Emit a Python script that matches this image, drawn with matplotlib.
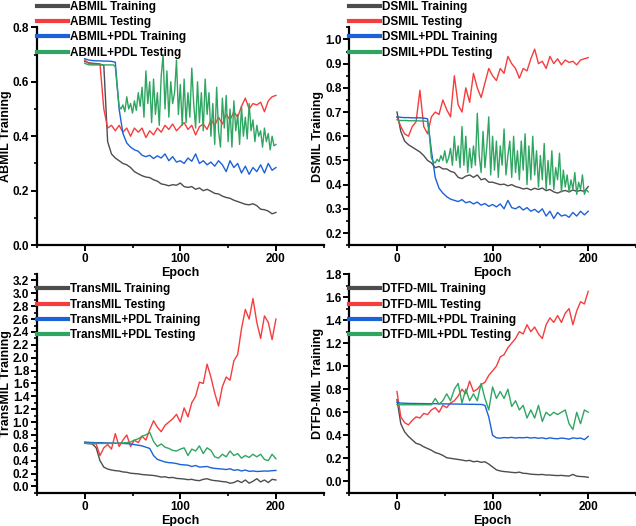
import matplotlib
matplotlib.use("Agg")
import matplotlib.pyplot as plt
from matplotlib.ticker import MultipleLocator

plt.rcParams['font.family'] = ['Liberation Sans', 'DejaVu Sans']
plt.rcParams['font.weight'] = 'bold'
plt.rcParams['axes.labelweight'] = 'bold'

# most series sampled every 4 epochs, the very noisy ones every 2
EPOCHS = list(range(0, 201, 4))
EPOCHS_FINE = list(range(0, 201, 2))

ABMIL_TRAIN = [0.675, 0.670, 0.668, 0.667, 0.665, 0.660, 0.380, 0.335, 0.320, 0.310,
               0.300, 0.295, 0.285, 0.270, 0.262, 0.255, 0.250, 0.248, 0.240, 0.235,
               0.225, 0.222, 0.218, 0.222, 0.220, 0.228, 0.215, 0.212, 0.215, 0.205,
               0.210, 0.200, 0.205, 0.198, 0.190, 0.188, 0.180, 0.175, 0.172, 0.165,
               0.160, 0.155, 0.150, 0.148, 0.152, 0.145, 0.132, 0.130, 0.125, 0.115,
               0.120]
ABMIL_TEST = [0.680, 0.668, 0.665, 0.665, 0.665, 0.500, 0.430, 0.440, 0.420, 0.440,
              0.415, 0.430, 0.400, 0.430, 0.415, 0.430, 0.395, 0.420, 0.405, 0.430,
              0.415, 0.440, 0.425, 0.445, 0.420, 0.435, 0.450, 0.425, 0.440, 0.405,
              0.435, 0.445, 0.425, 0.460, 0.440, 0.470, 0.445, 0.480, 0.460, 0.490,
              0.470, 0.510, 0.540, 0.500, 0.520, 0.515, 0.525, 0.490, 0.530, 0.545,
              0.550]
ABMIL_PDL_TRAIN = [0.685, 0.680, 0.678, 0.677, 0.677, 0.676, 0.676, 0.675, 0.672, 0.500,
                   0.410, 0.375, 0.360, 0.350, 0.345, 0.330, 0.325, 0.330, 0.318, 0.328,
                   0.320, 0.335, 0.310, 0.325, 0.305, 0.310, 0.300, 0.320, 0.308, 0.335,
                   0.300, 0.310, 0.295, 0.305, 0.290, 0.310, 0.295, 0.270, 0.310, 0.285,
                   0.300, 0.265, 0.290, 0.260, 0.285, 0.270, 0.295, 0.265, 0.300, 0.275,
                   0.285]
# every 2 epochs
ABMIL_PDL_TEST = [0.668, 0.665, 0.663, 0.662, 0.662, 0.662, 0.662, 0.662, 0.662, 0.662,
                  0.662, 0.662, 0.662, 0.662, 0.662, 0.662, 0.655, 0.580, 0.510, 0.500,
                  0.515, 0.490, 0.545, 0.500, 0.520, 0.485, 0.530, 0.495, 0.560, 0.510,
                  0.580, 0.470, 0.640, 0.520, 0.600, 0.450, 0.610, 0.480, 0.560, 0.440,
                  0.620, 0.700, 0.500, 0.640, 0.470, 0.600, 0.520, 0.560, 0.680, 0.480,
                  0.590, 0.440, 0.610, 0.450, 0.560, 0.470, 0.650, 0.520, 0.430, 0.600,
                  0.450, 0.560, 0.420, 0.610, 0.480, 0.560, 0.400, 0.520, 0.370, 0.580,
                  0.420, 0.360, 0.540, 0.430, 0.550, 0.380, 0.500, 0.360, 0.530, 0.420,
                  0.480, 0.370, 0.510, 0.400, 0.470, 0.390, 0.520, 0.420, 0.460, 0.380,
                  0.440, 0.400, 0.420, 0.360, 0.430, 0.380, 0.410, 0.350, 0.400, 0.365,
                  0.370]

DSMIL_TRAIN = [0.700, 0.620, 0.580, 0.565, 0.555, 0.545, 0.535, 0.520, 0.500, 0.490,
               0.470, 0.475, 0.465, 0.465, 0.455, 0.450, 0.430, 0.425, 0.435, 0.440,
               0.430, 0.440, 0.420, 0.425, 0.410, 0.410, 0.405, 0.400, 0.402, 0.395,
               0.400, 0.392, 0.388, 0.382, 0.385, 0.378, 0.385, 0.380, 0.386, 0.375,
               0.380, 0.370, 0.365, 0.372, 0.376, 0.370, 0.378, 0.372, 0.376, 0.372,
               0.392]
DSMIL_TEST = [0.680, 0.640, 0.610, 0.600, 0.640, 0.660, 0.790, 0.640, 0.610, 0.680,
              0.700, 0.690, 0.750, 0.710, 0.680, 0.850, 0.730, 0.700, 0.800, 0.740,
              0.860, 0.800, 0.760, 0.820, 0.880, 0.850, 0.830, 0.880, 0.860, 0.930,
              0.900, 0.880, 0.840, 0.880, 0.870, 0.920, 0.960, 0.900, 0.910, 0.880,
              0.930, 0.900, 0.920, 0.895, 0.915, 0.905, 0.910, 0.895, 0.915, 0.920,
              0.925]
DSMIL_PDL_TRAIN = [0.680, 0.678, 0.677, 0.677, 0.676, 0.676, 0.676, 0.675, 0.672, 0.540,
                   0.430, 0.385, 0.365, 0.350, 0.340, 0.335, 0.330, 0.338, 0.325, 0.330,
                   0.320, 0.328, 0.315, 0.322, 0.310, 0.318, 0.308, 0.320, 0.300, 0.335,
                   0.305, 0.300, 0.310, 0.295, 0.305, 0.290, 0.298, 0.285, 0.300, 0.270,
                   0.290, 0.260, 0.285, 0.270, 0.275, 0.265, 0.285, 0.270, 0.290, 0.275,
                   0.290]
# every 2 epochs
DSMIL_PDL_TEST = [0.668, 0.666, 0.665, 0.665, 0.665, 0.665, 0.664, 0.664, 0.664, 0.664,
                  0.664, 0.664, 0.663, 0.663, 0.663, 0.662, 0.660, 0.600, 0.510, 0.495,
                  0.490, 0.505, 0.495, 0.520, 0.500, 0.540, 0.490, 0.510, 0.550, 0.480,
                  0.600, 0.500, 0.560, 0.470, 0.640, 0.480, 0.600, 0.450, 0.550, 0.470,
                  0.560, 0.480, 0.695, 0.520, 0.450, 0.620, 0.470, 0.560, 0.680, 0.440,
                  0.600, 0.460, 0.580, 0.430, 0.560, 0.480, 0.630, 0.440, 0.520, 0.580,
                  0.430, 0.600, 0.450, 0.540, 0.420, 0.580, 0.460, 0.610, 0.400, 0.560,
                  0.420, 0.600, 0.440, 0.540, 0.390, 0.520, 0.420, 0.570, 0.380, 0.500,
                  0.400, 0.540, 0.380, 0.470, 0.420, 0.530, 0.370, 0.460, 0.390, 0.440,
                  0.370, 0.420, 0.380, 0.450, 0.360, 0.410, 0.380, 0.440, 0.360, 0.380,
                  0.370]

TRANSMIL_TRAIN = [0.670, 0.665, 0.660, 0.600, 0.400, 0.300, 0.270, 0.255, 0.245, 0.240,
                  0.225, 0.220, 0.205, 0.200, 0.195, 0.185, 0.180, 0.175, 0.170, 0.160,
                  0.145, 0.150, 0.135, 0.140, 0.125, 0.120, 0.115, 0.105, 0.110, 0.095,
                  0.090, 0.110, 0.120, 0.100, 0.090, 0.085, 0.075, 0.070, 0.050, 0.060,
                  0.090, 0.060, 0.100, 0.050, 0.080, 0.120, 0.070, 0.100, 0.060, 0.110,
                  0.100]
TRANSMIL_TEST = [0.680, 0.670, 0.670, 0.660, 0.480, 0.600, 0.650, 0.580, 0.820, 0.620,
                 0.720, 0.800, 0.620, 0.720, 0.680, 0.780, 0.720, 0.880, 1.020, 0.920,
                 0.850, 0.950, 1.000, 1.050, 1.120, 1.000, 1.220, 1.080, 1.300, 1.400,
                 1.620, 1.600, 1.900, 1.700, 1.450, 1.250, 1.550, 1.700, 1.650, 1.950,
                 2.050, 2.450, 2.750, 2.600, 2.920, 2.550, 2.300, 2.650, 2.550, 2.280,
                 2.600]
TRANSMIL_PDL_TRAIN = [0.690, 0.685, 0.682, 0.680, 0.680, 0.678, 0.676, 0.675, 0.672, 0.670,
                      0.668, 0.665, 0.660, 0.650, 0.640, 0.630, 0.610, 0.590, 0.480, 0.420,
                      0.400, 0.380, 0.370, 0.365, 0.355, 0.340, 0.335, 0.330, 0.310, 0.325,
                      0.300, 0.305, 0.310, 0.290, 0.280, 0.275, 0.270, 0.262, 0.275, 0.250,
                      0.260, 0.240, 0.255, 0.235, 0.240, 0.232, 0.235, 0.240, 0.238, 0.245,
                      0.248]
TRANSMIL_PDL_TEST = [0.670, 0.668, 0.668, 0.668, 0.668, 0.668, 0.668, 0.668, 0.670, 0.672,
                     0.675, 0.680, 0.690, 0.720, 0.740, 0.780, 0.800, 0.840, 0.700, 0.620,
                     0.660, 0.610, 0.590, 0.560, 0.550, 0.580, 0.600, 0.480, 0.580, 0.550,
                     0.630, 0.510, 0.600, 0.560, 0.460, 0.440, 0.500, 0.460, 0.550, 0.480,
                     0.510, 0.440, 0.480, 0.450, 0.500, 0.460, 0.500, 0.420, 0.400, 0.500,
                     0.430]

DTFD_TRAIN = [0.710, 0.500, 0.430, 0.390, 0.360, 0.330, 0.320, 0.300, 0.285, 0.270,
              0.250, 0.240, 0.225, 0.205, 0.200, 0.195, 0.190, 0.185, 0.178, 0.182,
              0.170, 0.175, 0.165, 0.170, 0.150, 0.125, 0.100, 0.090, 0.085, 0.082,
              0.078, 0.075, 0.080, 0.070, 0.068, 0.062, 0.060, 0.058, 0.060, 0.055,
              0.055, 0.052, 0.050, 0.052, 0.048, 0.046, 0.060, 0.045, 0.042, 0.040,
              0.035]
DTFD_TEST = [0.780, 0.560, 0.510, 0.490, 0.530, 0.560, 0.550, 0.590, 0.580, 0.620,
             0.640, 0.600, 0.660, 0.640, 0.680, 0.700, 0.740, 0.800, 0.760, 0.870,
             0.780, 0.800, 0.840, 0.860, 0.920, 0.960, 1.000, 1.080, 1.100, 1.160,
             1.200, 1.240, 1.300, 1.280, 1.360, 1.300, 1.340, 1.280, 1.240, 1.360,
             1.420, 1.380, 1.440, 1.380, 1.460, 1.500, 1.360, 1.480, 1.560, 1.540,
             1.650]
DTFD_PDL_TRAIN = [0.685, 0.680, 0.678, 0.677, 0.676, 0.676, 0.675, 0.675, 0.674, 0.674,
                  0.674, 0.673, 0.673, 0.672, 0.672, 0.671, 0.671, 0.670, 0.670, 0.669,
                  0.669, 0.668, 0.668, 0.660, 0.560, 0.400, 0.378, 0.375, 0.380, 0.378,
                  0.382, 0.376, 0.380, 0.378, 0.382, 0.376, 0.380, 0.374, 0.378, 0.370,
                  0.378, 0.372, 0.370, 0.376, 0.372, 0.366, 0.378, 0.372, 0.376, 0.362,
                  0.390]
DTFD_PDL_TEST = [0.665, 0.665, 0.665, 0.665, 0.665, 0.665, 0.665, 0.665, 0.665, 0.665,
                 0.720, 0.670, 0.700, 0.760, 0.700, 0.800, 0.850, 0.680, 0.800, 0.700,
                 0.760, 0.700, 0.850, 0.720, 0.620, 0.820, 0.720, 0.780, 0.720, 0.800,
                 0.650, 0.700, 0.620, 0.660, 0.550, 0.620, 0.550, 0.660, 0.520, 0.600,
                 0.570, 0.600, 0.580, 0.600, 0.620, 0.500, 0.450, 0.600, 0.500, 0.620,
                 0.600]

COLORS = ['#4d4d4d', '#f53d3d', '#1b62d8', '#2ea661']
SUFFIXES = [' Training', ' Testing', '+PDL Training', '+PDL Testing']

# name, series, ylim, major step, minor step, axes rect (fig fraction), legend top
PANELS = [
    ('ABMIL', [ABMIL_TRAIN, ABMIL_TEST, ABMIL_PDL_TRAIN, ABMIL_PDL_TEST],
     (0.0, 0.8), 0.2, 0.1, [0.058, 0.534, 0.451, 0.414], 1.122),
    ('DSMIL', [DSMIL_TRAIN, DSMIL_TEST, DSMIL_PDL_TRAIN, DSMIL_PDL_TEST],
     (0.15, 1.05), 0.1, 0.05, [0.549, 0.534, 0.451, 0.414], 1.122),
    ('TransMIL', [TRANSMIL_TRAIN, TRANSMIL_TEST, TRANSMIL_PDL_TRAIN, TRANSMIL_PDL_TEST],
     (-0.1, 3.3), 0.2, 0.1, [0.058, 0.063, 0.451, 0.416], 0.957),
    ('DTFD-MIL', [DTFD_TRAIN, DTFD_TEST, DTFD_PDL_TRAIN, DTFD_PDL_TEST],
     (-0.1, 1.8), 0.2, 0.1, [0.549, 0.063, 0.451, 0.416], 0.957),
]

fig = plt.figure(figsize=(6.36, 5.26), dpi=100)

for name, series, ylim, major, minor, rect, leg_y in PANELS:
    ax = fig.add_axes(rect)
    ax.patch.set_alpha(0)  # keep the upper panel's x label visible
    for values, color, suf in zip(series, COLORS, SUFFIXES):
        xs = EPOCHS_FINE if len(values) == len(EPOCHS_FINE) else EPOCHS
        ax.plot(xs, values, color=color, lw=1.0, label=name + suf)

    ax.set_xlim(-50, 250)
    ax.set_ylim(*ylim)
    ax.set_xticks([0, 100, 200])
    ax.xaxis.set_minor_locator(MultipleLocator(50))
    ax.yaxis.set_major_locator(MultipleLocator(major))
    ax.yaxis.set_minor_locator(MultipleLocator(minor))
    if name == 'TransMIL':
        ax.set_yticks([i * 0.2 for i in range(17)])
    ax.yaxis.set_major_formatter(plt.FormatStrFormatter('%.1f'))

    for side in ['top', 'right']:
        ax.spines[side].set_visible(False)
    for side in ['left', 'bottom']:
        ax.spines[side].set_linewidth(1.6)
    ax.tick_params(which='major', direction='out', length=4, width=1.4, labelsize=8.5, pad=1.5)
    ax.tick_params(which='minor', direction='out', length=2, width=1.2)

    ax.set_xlabel('Epoch', fontsize=9, labelpad=1.5)
    ax.set_ylabel(name + ' Training', fontsize=9, labelpad=0.5)

    leg = ax.legend(loc='upper left', bbox_to_anchor=(0.0, leg_y), frameon=False,
                    fontsize=8.5, handlelength=2.6, handletextpad=0.2,
                    labelspacing=0.28, borderpad=0, borderaxespad=0)
    for h in leg.legend_handles:
        h.set_linewidth(3.0)

fig.savefig('out.png', dpi=100)
